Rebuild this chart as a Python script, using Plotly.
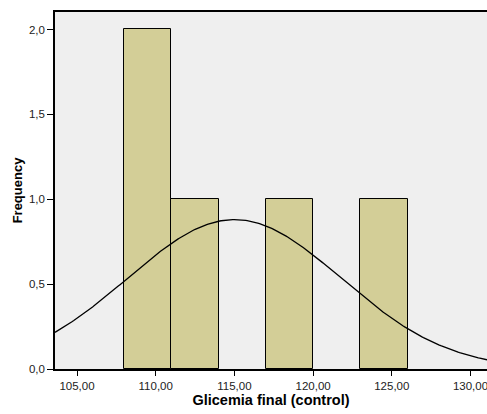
import numpy as np
import plotly.graph_objects as go

# Histogram bins (left edges), width and counts
bin_starts = [108, 111, 117, 123]
bin_width = 3
counts = [2, 1, 1, 1]

# Fitted normal curve parameters (SPSS overlay)
n_obs = 5
curve_mean = 115.0
curve_sd = 6.8

x_ticks = [105, 110, 115, 120, 125, 130]
x_tick_labels = ["105,00", "110,00", "115,00", "120,00", "125,00", "130,00"]
y_ticks = [0, 0.5, 1.0, 1.5, 2.0]
y_tick_labels = ["0,0", "0,5", "1,0", "1,5", "2,0"]

x_range = [103.6, 131.05]
y_range = [0, 2.103]

centers = [s + bin_width / 2 for s in bin_starts]

xc = np.linspace(x_range[0], x_range[1], 300)
yc = n_obs * bin_width / (curve_sd * np.sqrt(2 * np.pi)) * np.exp(-((xc - curve_mean) ** 2) / (2 * curve_sd ** 2))

fig = go.Figure()
fig.add_trace(go.Bar(
    x=centers, y=counts, width=[bin_width] * len(counts),
    marker=dict(color="#d3ce97", line=dict(color="#000000", width=1)),
    hoverinfo="skip",
))
fig.add_trace(go.Scatter(
    x=xc, y=yc, mode="lines",
    line=dict(color="#000000", width=1.3),
    hoverinfo="skip",
))

font = "Liberation Sans, Arial, sans-serif"
fig.update_layout(
    width=487, height=414,
    margin=dict(l=55, r=0, t=12, b=45, autoexpand=False),
    paper_bgcolor="#ffffff",
    plot_bgcolor="#efefef",
    showlegend=False,
    bargap=0,
    font=dict(family=font, size=11, color="#000000"),
)
fig.update_xaxes(
    range=x_range, tickvals=x_ticks, ticktext=x_tick_labels,
    showgrid=False, zeroline=False, automargin=False,
    showline=True, linecolor="#000000", linewidth=1.5, mirror=True,
    ticks="outside", ticklen=5, tickcolor="#000000",
    ticklabeloverflow="allow",
    tickfont=dict(family=font, size=11.5, color="#222222"),
    title=dict(text="<b>Glicemia final (control)</b>", font=dict(family=font, size=14.5, color="#000000"), standoff=4),
)
fig.update_yaxes(
    range=y_range, tickvals=y_ticks, ticktext=y_tick_labels,
    showgrid=False, zeroline=False, automargin=False,
    showline=True, linecolor="#000000", linewidth=1.5, mirror=False,
    ticks="outside", ticklen=6, tickcolor="#000000",
    tickfont=dict(family=font, size=11.5, color="#222222"),
    title=dict(text="<b>Frequency</b>", font=dict(family=font, size=13, color="#000000"), standoff=3),
)

fig.write_html(
    "out.html",
    config={"displayModeBar": False},
    post_script="document.body.style.margin='0';document.body.style.overflow='hidden';",
)
